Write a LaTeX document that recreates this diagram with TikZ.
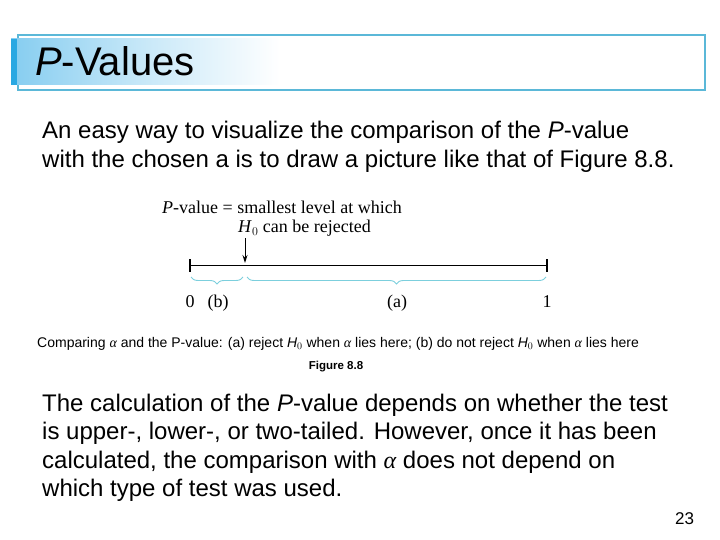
\documentclass[tikz,border=0pt]{standalone}
\usepackage{fontspec}
\setmainfont{Liberation Sans}
\newfontfamily\figserif{Liberation Serif}
\usetikzlibrary{decorations.pathreplacing,arrows.meta}
\definecolor{frameblue}{HTML}{5BB8D8}
\definecolor{barblue}{HTML}{86CDF0}
\definecolor{stripblue}{HTML}{2AA8E2}
\definecolor{bracecyan}{HTML}{7CCFDD}
\begin{document}
\begin{tikzpicture}[x=1pt,y=-1pt,
  txt/.style={inner sep=0pt, anchor=base west},
  bodytxt/.style={txt, font=\fontsize{24}{28}\selectfont},
  figtxt/.style={inner sep=0pt, anchor=base, font=\figserif\fontsize{18}{20}\selectfont},
  bracestyle/.style={draw=bracecyan, line width=0.9pt, decorate, decoration={brace, mirror, amplitude=7pt}},
  tick/.style={line width=1.2pt}]
\useasboundingbox (0,0) rectangle (720,540);
% title
\draw[frameblue, line width=1.4pt] (18,35) rectangle (705,90);
\shade[left color=barblue, right color=white, middle color=barblue!45] (11,39) rectangle (280,85);
\fill[stripblue] (11,39) rectangle (17,85);
\node[txt, font=\fontsize{40}{44}\selectfont] (title) at (35,76) {\textit{P}-Values};
% intro text
\node[bodytxt] (l1) at (42,139) {An easy way to visualize the comparison of the \textit{P}-value};
\node[bodytxt] (l2) at (42,168) {with the chosen a is to draw a picture like that of Figure 8.8.};
% figure
\node[inner sep=0pt, anchor=base west, font=\figserif\fontsize{18}{20}\selectfont] (pv) at (162,214) {\textit{P}-value = smallest level at which};
\node[inner sep=0pt, anchor=base west, font=\figserif\fontsize{18}{20}\selectfont] (h0) at (238,233) {\textit{H}$_0$ can be rejected};
\coordinate (arrtop) at (245,238);
\coordinate (arrtip) at (245,263);
\draw[line width=1pt, -{Stealth[length=8pt,width=5pt]}] (arrtop) -- (arrtip);
\coordinate (z) at (190,265.5);
\coordinate (o) at (547,265.5);
\draw[line width=1.2pt] (z) -- (o);
\draw[tick] (190,259) -- (190,272);
\draw[tick] (547,259) -- (547,272);
\coordinate (b1) at (191,277);
\coordinate (b2) at (243,277);
\coordinate (a1) at (247,277);
\coordinate (a2) at (546,277);
\draw[bracestyle] (b1) -- (b2);
\draw[bracestyle] (a1) -- (a2);
\node[figtxt] (n0) at (190,307) {0};
\node[figtxt] (nb) at (218,307) {(b)};
\node[figtxt] (na) at (397,307) {(a)};
\node[figtxt] (n1) at (547,307) {1};
% caption
\node[txt, font=\fontsize{14}{16}\selectfont] (cap) at (37,347) {Comparing {\figserif\itshape α} and the P-value: (a) reject \textit{H}$_0$ when {\figserif\itshape α} lies here; (b) do not reject \textit{H}$_0$ when {\figserif\itshape α} lies here};
\node[inner sep=0pt, anchor=base, font=\bfseries\fontsize{11.5}{13}\selectfont] (fig) at (336,369) {Figure 8.8};
% bottom text
\node[bodytxt] (m1) at (42,411) {The calculation of the \textit{P}-value depends on whether the test};
\node[bodytxt] (m2) at (42,439.5) {is upper-, lower-, or two-tailed. However, once it has been};
\node[bodytxt] (m3) at (42,468) {calculated, the comparison with {\figserif\itshape α} does not depend on};
\node[bodytxt] (m4) at (42,496.5) {which type of test was used.};
\node[txt, font=\fontsize{17}{19}\selectfont] (pg) at (675,524) {23};
\end{tikzpicture}
\end{document}
